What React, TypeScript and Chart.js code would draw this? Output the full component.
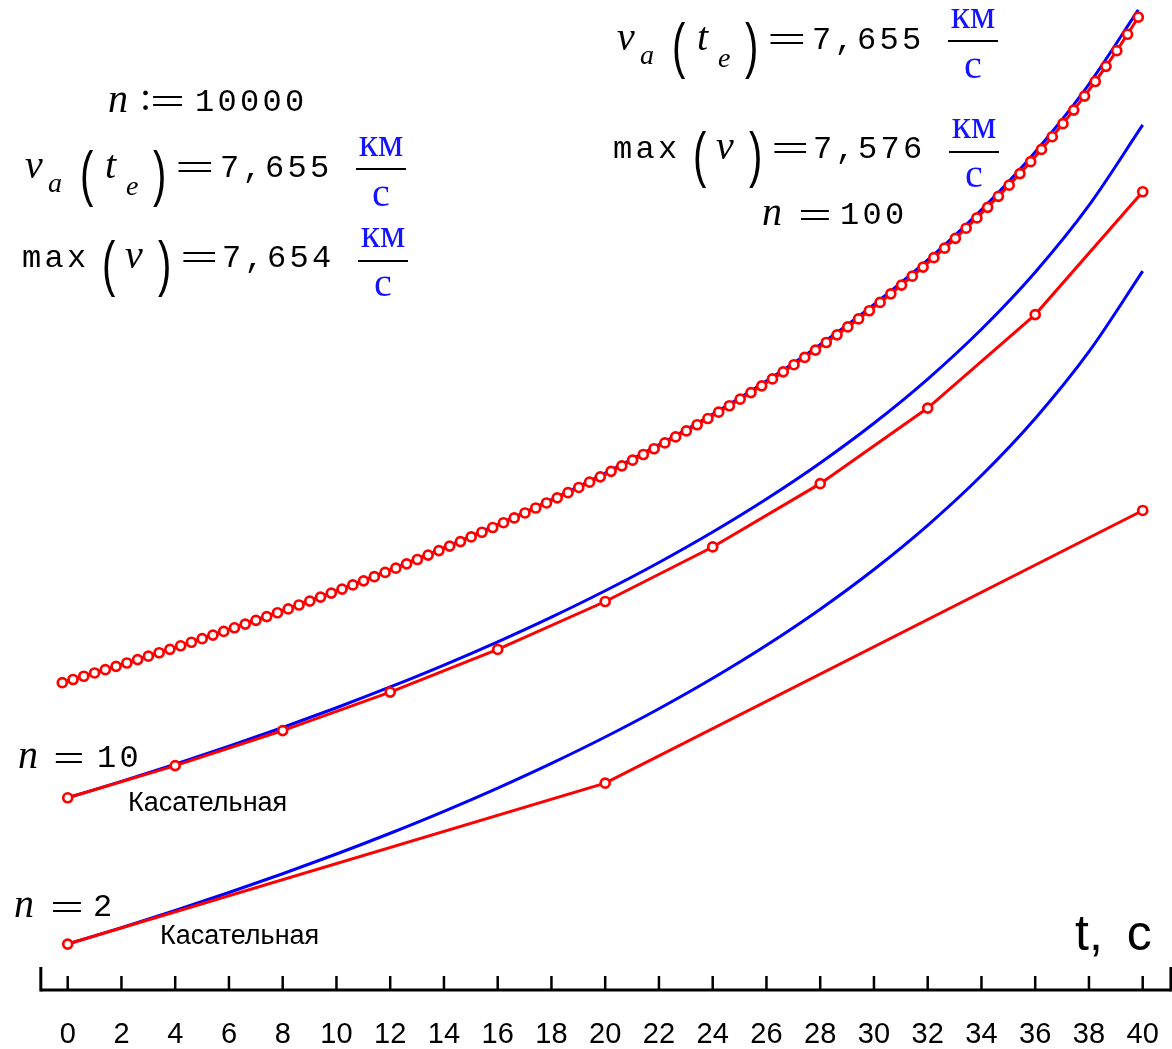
import React, { useEffect, useRef } from "react";
import { Chart, registerables } from "chart.js";

Chart.register(...registerables);

// ---------- data (t in s, v in km/s) ----------
const TICK_VALUES = [0, 2, 4, 6, 8, 10, 12, 14, 16, 18, 20, 22, 24, 26, 28, 30, 32, 34, 36, 38, 40];
const TICK_LABELS = ["0", "2", "4", "6", "8", "10", "12", "14", "16", "18", "20", "22", "24", "26", "28", "30", "32", "34", "36", "38", "40"];

// exact (analytic) solution, blue curves
const T_EXACT = [0, 2, 4, 6, 8, 10, 12, 14, 16, 18, 20, 22, 24, 26, 28, 30, 32, 34, 36, 38, 40];
const V_EXACT = [0, 0.1869, 0.3819, 0.5859, 0.7996, 1.0241, 1.2605, 1.51, 1.7744, 2.0554, 2.3553, 2.6769, 3.0233, 3.399, 3.8092, 4.2609, 4.7636, 5.3301, 5.9791, 6.7388, 7.6549];

// Euler ("Касательная") n = 2
const T_N2 = [0, 20, 40];
const V_N2 = [0, 1.8302, 4.9323];

// Euler n = 10
const T_N10 = [0, 4, 8, 12, 16, 20, 24, 28, 32, 36, 40];
const V_N10 = [0, 0.3661, 0.7648, 1.2027, 1.6882, 2.2329, 2.8533, 3.5739, 4.4332, 5.4973, 6.8944];

// Euler n = 100
const T_N100 = [
  0, 0.4, 0.8, 1.2, 1.6, 2, 2.4, 2.8, 3.2, 3.6,
  4, 4.4, 4.8, 5.2, 5.6, 6, 6.4, 6.8, 7.2, 7.6,
  8, 8.4, 8.8, 9.2, 9.6, 10, 10.4, 10.8, 11.2, 11.6,
  12, 12.4, 12.8, 13.2, 13.6, 14, 14.4, 14.8, 15.2, 15.6,
  16, 16.4, 16.8, 17.2, 17.6, 18, 18.4, 18.8, 19.2, 19.6,
  20, 20.4, 20.8, 21.2, 21.6, 22, 22.4, 22.8, 23.2, 23.6,
  24, 24.4, 24.8, 25.2, 25.6, 26, 26.4, 26.8, 27.2, 27.6,
  28, 28.4, 28.8, 29.2, 29.6, 30, 30.4, 30.8, 31.2, 31.6,
  32, 32.4, 32.8, 33.2, 33.6, 34, 34.4, 34.8, 35.2, 35.6,
  36, 36.4, 36.8, 37.2, 37.6, 38, 38.4, 38.8, 39.2, 39.6,
  40,
];
const V_N100 = [
  0, 0.0366, 0.0735, 0.1107, 0.1482, 0.1861, 0.2243, 0.2628, 0.3016, 0.3408,
  0.3803, 0.4202, 0.4604, 0.501, 0.542, 0.5833, 0.6251, 0.6672, 0.7097, 0.7527,
  0.796, 0.8398, 0.884, 0.9287, 0.9738, 1.0194, 1.0654, 1.1119, 1.159, 1.2065,
  1.2545, 1.303, 1.3521, 1.4018, 1.4519, 1.5027, 1.554, 1.606, 1.6585, 1.7117,
  1.7655, 1.82, 1.8751, 1.9309, 1.9875, 2.0447, 2.1028, 2.1615, 2.2211, 2.2814,
  2.3426, 2.4047, 2.4676, 2.5314, 2.5962, 2.6618, 2.7285, 2.7962, 2.8649, 2.9347,
  3.0056, 3.0777, 3.1509, 3.2254, 3.3011, 3.3781, 3.4565, 3.5363, 3.6175, 3.7002,
  3.7845, 3.8705, 3.9581, 4.0474, 4.1386, 4.2317, 4.3268, 4.4239, 4.5232, 4.6248,
  4.7287, 4.8351, 4.9441, 5.0558, 5.1704, 5.288, 5.4088, 5.533, 5.6607, 5.7921,
  5.9276, 6.0673, 6.2115, 6.3605, 6.5146, 6.6743, 6.8399, 7.0119, 7.1907, 7.3771,
  7.5715,
];

// vertical shift of each group on the (hidden) value axis
const BASE_N2 = 0;
const BASE_N10 = 1.664;
const BASE_N100 = 2.973;

// ---------- scale settings ----------
const X_MIN = -2.519;
const X_MAX = 41.09;
const X2_MIN = -2.316;
const X2_MAX = 41.253;
const Y_MIN = -0.523;
const Y_MAX = 10.74;
const AXIS_START = -1;
const AXIS_END = 41.05;

const W = 1172;
const H = 1049;
const AXIS_SPACE = 59; // room below the chart area for the time axis

const RED = "#ff0000";
const BLUE = "#0000ff";
const UNIT_BLUE = "#1414ff";

const pts = (ts: number[], vs: number[], base: number) => ts.map((t, i) => ({ x: t, y: vs[i] + base }));

const blue = (ts: number[], vs: number[], base: number, xAxisID = "x") => ({
  data: pts(ts, vs, base),
  xAxisID,
  borderColor: BLUE,
  borderWidth: 3,
  pointRadius: 0,
  cubicInterpolationMode: "monotone" as const,
  fill: false,
  order: 2,
  clip: false as const,
});

const red = (ts: number[], vs: number[], base: number, xAxisID = "x") => ({
  data: pts(ts, vs, base),
  xAxisID,
  borderColor: RED,
  borderWidth: 3,
  tension: 0,
  pointRadius: 4.5,
  pointBorderWidth: 2.7,
  pointBorderColor: RED,
  pointBackgroundColor: "#ffffff",
  fill: false,
  order: 1,
  clip: false as const,
});

// time axis: line, ticks and labels placed with the x scale
const axisPlugin = {
  id: "tAxis",
  afterDraw(chart: any) {
    const { ctx, chartArea, scales } = chart;
    const xs = scales.x;
    const y0 = chartArea.bottom;
    ctx.save();
    ctx.strokeStyle = "#000";
    ctx.lineWidth = 3;
    ctx.beginPath();
    ctx.moveTo(xs.getPixelForValue(AXIS_START), y0);
    ctx.lineTo(xs.getPixelForValue(AXIS_END), y0);
    ctx.stroke();
    ctx.lineWidth = 2.5;
    for (const v of TICK_VALUES) {
      const px = xs.getPixelForValue(v);
      ctx.beginPath();
      ctx.moveTo(px, y0);
      ctx.lineTo(px, y0 - 14);
      ctx.stroke();
    }
    ctx.lineWidth = 3;
    for (const v of [AXIS_START, AXIS_END]) {
      const px = xs.getPixelForValue(v);
      ctx.beginPath();
      ctx.moveTo(px, y0 + 1.5);
      ctx.lineTo(px, y0 - 23);
      ctx.stroke();
    }
    ctx.fillStyle = "#000";
    ctx.font = '29px "Liberation Sans", Arial, sans-serif';
    ctx.textAlign = "center";
    ctx.textBaseline = "alphabetic";
    TICK_VALUES.forEach((v, i) => {
      ctx.fillText(TICK_LABELS[i], xs.getPixelForValue(v), y0 + 53);
    });
    ctx.restore();
  },
};

// ---------- text helpers ----------
const BASE_K: Record<string, number> = {
  "Liberation Sans": 0.8465,
  "Liberation Serif": 0.8375,
  "Liberation Mono": 0.7665,
};

function Txt(props: { x: number; b: number; size: number; fam: string; it?: boolean; color?: string; ls?: number; ws?: number; children: any }) {
  const { x, b, size, fam, it, color, ls, ws, children } = props;
  return (
    <span
      style={{
        position: "absolute",
        left: x,
        top: b - BASE_K[fam] * size,
        fontFamily: `"${fam}"`,
        fontSize: size,
        lineHeight: 1,
        fontStyle: it ? "italic" : "normal",
        color: color || "#000",
        letterSpacing: ls,
        wordSpacing: ws,
        whiteSpace: "pre",
      }}
    >
      {children}
    </span>
  );
}

const MONO = "Liberation Mono";
const SERIF = "Liberation Serif";
const SANS = "Liberation Sans";
const MONO_SIZE = 32;
const MONO_LS = 3.3;
const VAR_SIZE = 40;
const SUB_SIZE = 28;

function Eq(props: { x: number; cy: number; w: number }) {
  const size = 40;
  const sx = props.w / (0.5 * size);
  const baseline = props.cy + 0.255 * size;
  return (
    <span
      style={{
        position: "absolute",
        left: props.x - 0.03 * size * sx,
        top: baseline - BASE_K[SERIF] * size,
        fontFamily: `"${SERIF}"`,
        fontSize: size,
        lineHeight: 1,
        transform: `scaleX(${sx})`,
        transformOrigin: "left top",
        whiteSpace: "pre",
      }}
    >
      =
    </span>
  );
}

function Paren(props: { x: number; cy: number; ch: string }) {
  const size = 40;
  const k = 0.5875 * size;
  return (
    <span
      style={{
        position: "absolute",
        left: props.x,
        top: props.cy - k,
        fontFamily: `"${SANS}"`,
        fontSize: size,
        lineHeight: 1,
        transform: "scaleY(1.55)",
        transformOrigin: `0 ${k}px`,
      }}
    >
      {props.ch}
    </span>
  );
}

function Frac(props: { x: number; w: number; ly: number; numB: number; denB: number }) {
  const { x, w, ly, numB, denB } = props;
  const size = 40;
  const common = {
    position: "absolute" as const,
    left: x,
    width: w,
    textAlign: "center" as const,
    fontFamily: `"${SERIF}"`,
    fontSize: size,
    lineHeight: 1,
    color: UNIT_BLUE,
  };
  return (
    <>
      <span style={{ ...common, top: numB - BASE_K[SERIF] * size }}>км</span>
      <div style={{ position: "absolute", left: x, top: ly - 1.25, width: w, height: 2.5, background: "#000" }} />
      <span style={{ ...common, top: denB - BASE_K[SERIF] * size }}>с</span>
    </>
  );
}

function MathVa(props: { x: number; b: number; val: string }) {
  const { x, b, val } = props;
  return (
    <>
      <Txt x={x} b={b} size={VAR_SIZE} fam={SERIF} it>v</Txt>
      <Txt x={x + 23} b={b + 14} size={SUB_SIZE} fam={SERIF} it>a</Txt>
      <Paren x={x + 55} cy={b - 1} ch="(" />
      <Txt x={x + 80} b={b} size={VAR_SIZE} fam={SERIF} it>t</Txt>
      <Txt x={x + 101} b={b + 17} size={SUB_SIZE} fam={SERIF} it>e</Txt>
      <Paren x={x + 128} cy={b - 1} ch=")" />
      <Eq x={x + 152} cy={b - 7} w={35} />
      <Txt x={x + 195} b={b} size={MONO_SIZE} fam={MONO} ls={MONO_LS}>{val}</Txt>
      <Frac x={x + 331} w={50} ly={b - 9} numB={b - 22} denB={b + 28} />
    </>
  );
}

function MathMax(props: { x: number; b: number; val: string }) {
  const { x, b, val } = props;
  return (
    <>
      <Txt x={x} b={b} size={MONO_SIZE} fam={MONO} ls={MONO_LS}>max</Txt>
      <Paren x={x + 80} cy={b - 1} ch="(" />
      <Txt x={x + 103} b={b} size={VAR_SIZE} fam={SERIF} it>v</Txt>
      <Paren x={x + 136} cy={b - 1} ch=")" />
      <Eq x={x + 160} cy={b - 7} w={34} />
      <Txt x={x + 200} b={b} size={MONO_SIZE} fam={MONO} ls={MONO_LS}>{val}</Txt>
      <Frac x={x + 336} w={50} ly={b - 7} numB={b - 21} denB={b + 28} />
    </>
  );
}

function NEq(props: { x: number; b: number; val: string; eqX: number; numX: number; eqW: number }) {
  const { x, b, val, eqX, numX, eqW } = props;
  return (
    <>
      <Txt x={x} b={b} size={VAR_SIZE} fam={SERIF} it>n</Txt>
      <Eq x={eqX} cy={b - 6} w={eqW} />
      <Txt x={numX} b={b} size={MONO_SIZE} fam={MONO} ls={MONO_LS}>{val}</Txt>
    </>
  );
}

export default function App() {
  const canvasRef = useRef<HTMLCanvasElement | null>(null);

  useEffect(() => {
    if (!canvasRef.current) return;
    Chart.defaults.font.family = '"Liberation Sans", Arial, sans-serif';
    const chart = new Chart(canvasRef.current, {
      type: "line",
      data: {
        datasets: [
          red(T_N2, V_N2, BASE_N2),
          blue(T_EXACT, V_EXACT, BASE_N2),
          red(T_N10, V_N10, BASE_N10),
          blue(T_EXACT, V_EXACT, BASE_N10),
          red(T_N100, V_N100, BASE_N100, "x2"),
          blue(T_EXACT, V_EXACT, BASE_N100, "x2"),
        ] as any,
      },
      options: {
        animation: false,
        responsive: false,
        maintainAspectRatio: false,
        events: [],
        layout: { autoPadding: false, padding: { left: 0, right: 0, top: 0, bottom: AXIS_SPACE } },
        plugins: { legend: { display: false }, tooltip: { enabled: false }, title: { display: false } },
        scales: {
          x: { type: "linear", display: false, min: X_MIN, max: X_MAX },
          x2: { type: "linear", display: false, min: X2_MIN, max: X2_MAX },
          y: { type: "linear", display: false, min: Y_MIN, max: Y_MAX },
        },
      } as any,
      plugins: [axisPlugin],
    });
    return () => chart.destroy();
  }, []);

  return (
    <div style={{ position: "absolute", left: 0, top: 0, width: W, height: H, background: "#fff", overflow: "hidden" }}>
      <canvas ref={canvasRef} width={W} height={H} style={{ position: "absolute", left: 0, top: 0, width: W, height: H }} />
      {/* left block */}
      <Txt x={108} b={112} size={VAR_SIZE} fam={SERIF} it>n</Txt>
      <Txt x={140} b={110} size={VAR_SIZE} fam={SERIF}>:</Txt>
      <Eq x={152} cy={105} w={31} />
      <Txt x={195} b={112} size={MONO_SIZE} fam={MONO} ls={MONO_LS}>10000</Txt>
      <MathVa x={25} b={178} val="7,655" />
      <MathMax x={22} b={268} val="7,654" />
      {/* right block */}
      <MathVa x={617} b={50} val="7,655" />
      <MathMax x={613} b={159} val="7,576" />
      <NEq x={762} b={225} val="100" eqX={800} numX={840} eqW={30} />
      {/* group labels */}
      <NEq x={18} b={768} val="10" eqX={55} numX={97} eqW={28} />
      <Txt x={128} b={812} size={27} fam={SANS}>Касательная</Txt>
      <NEq x={14} b={917} val="2" eqX={52} numX={93} eqW={30} />
      <Txt x={160} b={945} size={27} fam={SANS}>Касательная</Txt>
      <Txt x={1075} b={950} size={50} fam={SANS} ws={10}>t, с</Txt>
    </div>
  );
}
